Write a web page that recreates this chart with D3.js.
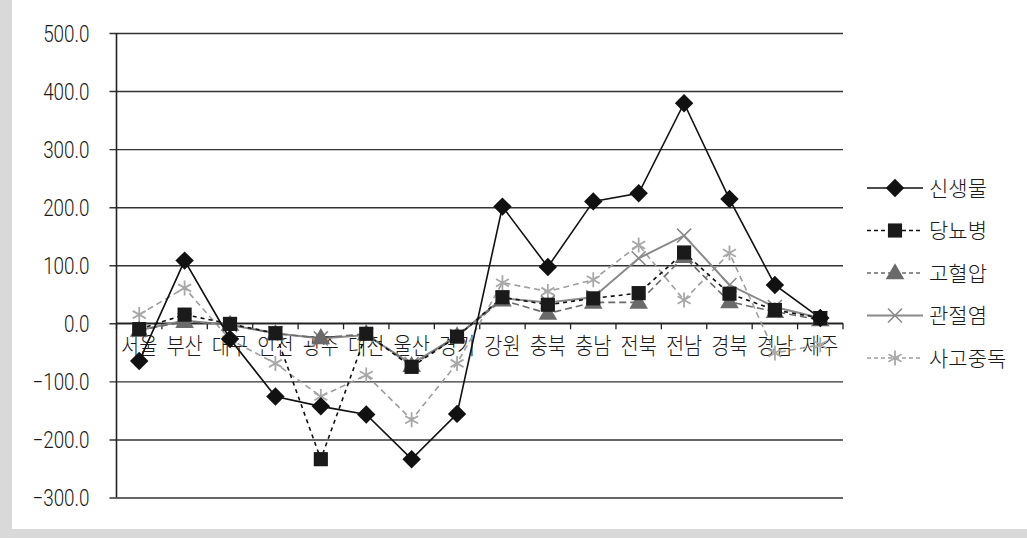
<!DOCTYPE html>
<html><head><meta charset="utf-8">
<script src="https://cdn.jsdelivr.net/npm/d3@7"></script>
<style>
body{margin:0;background:#fff;}
svg{display:block;}
</style></head>
<body>
<svg id="c" width="1027" height="538"></svg>
<script>
const categories = ["서울","부산","대구","인천","광주","대전","울산","경기","강원","충북","충남","전북","전남","경북","경남","제주"];
const yTicks = [-300,-200,-100,0,100,200,300,400,500];
const seriesNames = ["신생물","당뇨병","고혈압","관절염","사고중독"];
const s신생물 = [-65,108,-27,-126,-143,-157,-234,-156,201,97,210,224,379,214,66,9];
const s당뇨병 = [-10,15,-1,-17,-234,-18,-75,-23,45,32,43,52,122,51,23,9];
const s고혈압 = [-12,3,-2,-18,-25,-18,-73,-22,40,17,36,36,115,37,20,6];
const s관절염 = [-12,5,-3,-17,-26,-20,-70,-22,43,36,45,112,151,66,28,9];
const s사고중독 = [15,61,-28,-69,-126,-89,-166,-69,70,55,75,135,40,121,-51,-37];
const seriesValues = [s신생물,s당뇨병,s고혈압,s관절염,s사고중독];

const styles = [
  {stroke:"#111", width:1.6, dash:null, marker:"diamond", fill:"#111", size:170},
  {stroke:"#111", width:1.6, dash:"4,4", marker:"square", fill:"#1a1a1a", size:200},
  {stroke:"#6a6a6a", width:1.6, dash:"7,4", marker:"triangle", fill:"#6a6a6a", size:150},
  {stroke:"#8a8a8a", width:2, dash:null, marker:"x", fill:"#8a8a8a", size:10},
  {stroke:"#9e9e9e", width:1.6, dash:"6,4", marker:"star", fill:"#a8a8a8", size:10}
];

const svg = d3.select("#c");
svg.append("rect").attr("x",0).attr("y",0).attr("width",1027).attr("height",538).attr("fill","#d9d9d9");
svg.append("rect").attr("x",12).attr("y",0).attr("width",1015).attr("height",529).attr("fill","#fff");

const L=116.5, R=843, T=33, B=497.5;
const x = d3.scaleBand().domain(categories).range([L,R]);
const y = d3.scaleLinear().domain([-300,500]).range([B,T]);

// gridlines + y ticks
const yAxis = d3.axisLeft(y).tickValues(yTicks).tickSize(-(R-L)).tickSizeOuter(0)
  .tickFormat(d=> (d<0?"\u2212":"") + Math.abs(d).toFixed(1));
const gy = svg.append("g").attr("transform",`translate(${L},0)`).call(yAxis);
gy.select(".domain").remove();
gy.selectAll(".tick line").attr("x1",-7).attr("stroke","#333").attr("stroke-width",1.4);
gy.selectAll(".tick text").attr("x",null).attr("dy","0.36em")
  .attr("transform","translate(-27,0) scale(0.82,1)")
  .style("font-family","Roboto,'Liberation Sans',sans-serif").style("font-weight","300")
  .style("font-size","23px").attr("fill","#1a1a1a");
svg.append("line").attr("x1",L).attr("x2",L).attr("y1",T).attr("y2",B).attr("stroke","#222").attr("stroke-width",1.6);

// x axis at zero
const y0 = y(0);
svg.append("line").attr("x1",L).attr("x2",R).attr("y1",y0).attr("y2",y0).attr("stroke","#222").attr("stroke-width",1.6);
const bounds = categories.map(c=>x(c)).concat([R]);
svg.append("g").selectAll("line").data(bounds).join("line")
  .attr("x1",d=>d).attr("x2",d=>d).attr("y1",y0).attr("y2",y0+6).attr("stroke","#222").attr("stroke-width",1.3);
svg.append("g").selectAll("text").data(categories).join("text")
  .attr("transform",d=>`translate(${x(d)+x.bandwidth()/2},${y0+31}) scale(0.86,1)`)
  .attr("text-anchor","middle")
  .style("font-family","'Noto Sans CJK KR',sans-serif").style("font-weight","300").style("font-size","23px").attr("fill","#1a1a1a")
  .text(d=>d);

const cx = c => x(c)+x.bandwidth()/2;
const line = d3.line().x((d,i)=>cx(categories[i])).y(d=>y(d));

function drawMarker(g, type, st, px, py){
  if(type==="x"){
    const s=7;
    g.append("path").attr("d",`M${px-s},${py-s}L${px+s},${py+s}M${px-s},${py+s}L${px+s},${py-s}`)
      .attr("stroke",st.fill).attr("stroke-width",1.6).attr("fill","none");
  } else if(type==="star"){
    const s=7.5;
    let d="";
    for(let k=0;k<3;k++){const a=Math.PI/2+k*Math.PI/3; d+=`M${px-s*Math.cos(a)},${py-s*Math.sin(a)}L${px+s*Math.cos(a)},${py+s*Math.sin(a)}`;}
    g.append("path").attr("d",d).attr("stroke",st.fill).attr("stroke-width",1.8).attr("fill","none");
  } else {
    const sym = type==="square"? d3.symbolSquare : d3.symbolTriangle;
    let p = type==="diamond" ? d3.symbol().type(d3.symbolSquare).size(st.size)() : d3.symbol().type(sym).size(st.size)();
    g.append("path").attr("d",p)
      .attr("transform",`translate(${px},${py})` + (type==="diamond"?" rotate(45)":"") + (type==="triangle"?" translate(0,1)":""))
      .attr("fill",st.fill);
  }
}

// draw lines in back-to-front order
const order = [4,3,2,1,0];
order.forEach(si=>{
  const st=styles[si];
  svg.append("path").datum(seriesValues[si]).attr("d",line).attr("fill","none")
    .attr("stroke",st.stroke).attr("stroke-width",st.width).attr("stroke-dasharray",st.dash);
});
order.forEach(si=>{
  const st=styles[si];
  const g=svg.append("g");
  seriesValues[si].forEach((v,i)=>drawMarker(g, st.marker, st, cx(categories[i]), y(v)));
});

// legend
const lg = svg.append("g");
seriesNames.forEach((n,i)=>{
  const st=styles[i];
  const yy = 188 + i*42.5;
  lg.append("line").attr("x1",867).attr("x2",923).attr("y1",yy).attr("y2",yy)
    .attr("stroke",st.stroke).attr("stroke-width",st.width).attr("stroke-dasharray",st.dash?"4,3":null);
  drawMarker(lg, st.marker, st, 895, yy);
  lg.append("text").attr("x",929).attr("y",yy).attr("dy","0.36em")
    .style("font-family","'Noto Sans CJK KR',sans-serif").style("font-weight","300").style("font-size","21px").attr("fill","#1a1a1a").text(n);
});
</script>
</body></html>
